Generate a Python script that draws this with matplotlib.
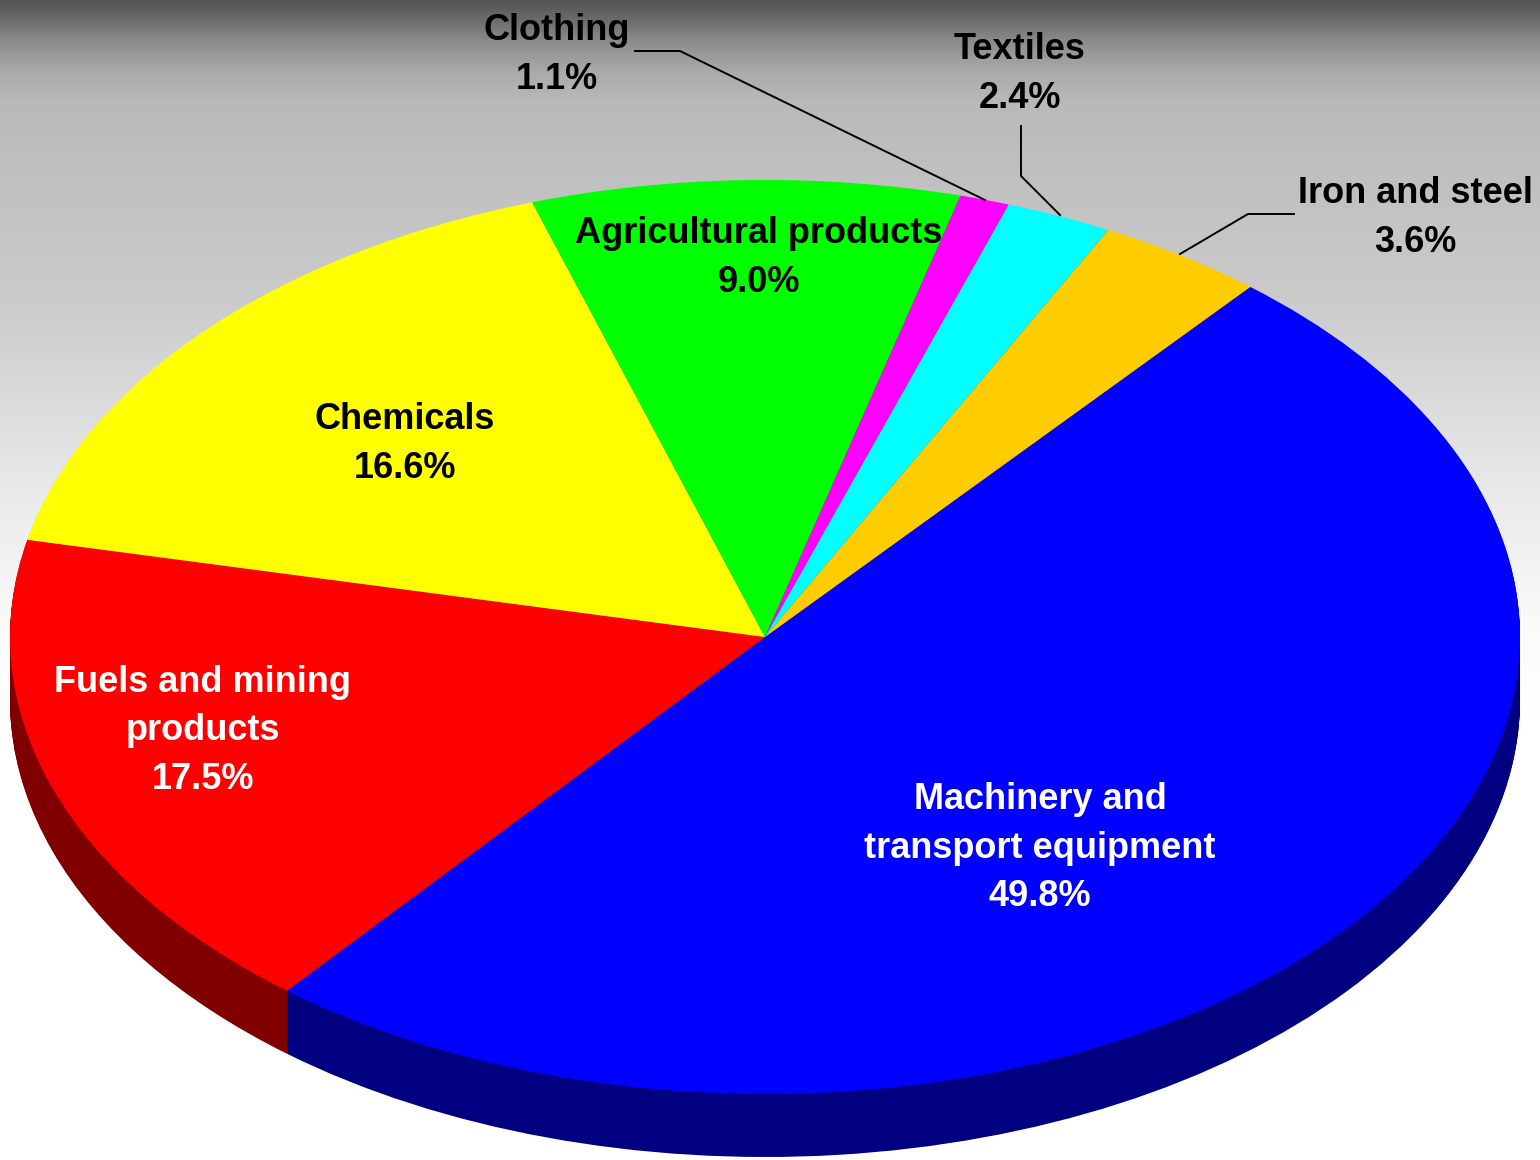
import numpy as np
import matplotlib
matplotlib.use("Agg")
import matplotlib.pyplot as plt
from matplotlib.colors import LinearSegmentedColormap

# clockwise from the orange/blue border
names = ["Machinery and\ntransport equipment", "Fuels and mining\nproducts", "Chemicals",
         "Agricultural products", "Clothing", "Textiles", "Iron and steel"]
shares = [49.8, 17.5, 16.6, 9.0, 1.1, 2.4, 3.6]
# slice sizes as measured on the drawing, the small ones differ a bit from the printed labels
drawn_sizes = [49.8, 17.5, 16.6, 9.16, 1.06, 2.28, 3.6]
top_colors = ["#0000ff", "#ff0000", "#ffff00", "#00ff00", "#ff00ff", "#00ffff", "#ffcc00"]
side_colors = ["#000080", "#800000", "#808000", "#008000", "#800080", "#008080", "#806600"]
label_colors = ["white", "white", "black", "black", "black", "black", "black"]

W, H = 1540, 1160
CX, CY = 765, 637      # pie centre in pixels
RX, RY = 755, 457      # ellipse radii
DEPTH = 63

plt.rcParams["font.family"] = ["Liberation Sans", "DejaVu Sans"]
fig = plt.figure(figsize=(W / 100, H / 100), dpi=100)

# background gradient
grad_y = [0, 20, 40, 70, 100, 150, 300, 500, 640, 720, 1160]
grad_v = [85, 110, 140, 170, 185, 190, 203, 235, 252, 255, 255]
stops = [(y / H, str(v / 255)) for y, v in zip(grad_y, grad_v)]
cmap = LinearSegmentedColormap.from_list("bg", stops, N=512)
ax_bg = fig.add_axes([0, 0, 1, 1], zorder=0)
ax_bg.imshow(np.linspace(0, 1, H).reshape(-1, 1), cmap=cmap, aspect="auto", vmin=0, vmax=1)
ax_bg.axis("off")

# pie squashed into an ellipse, wall made of stacked dark copies
ax = fig.add_axes([0, 0, 1, 1], zorder=1)
ax.patch.set_alpha(0)
for d in range(DEPTH, 0, -1):
    ax.pie(drawn_sizes, colors=side_colors, startangle=50, counterclock=False,
           center=(0, -d / RY), wedgeprops={"linewidth": 0})
ax.pie(drawn_sizes, colors=top_colors, startangle=50, counterclock=False,
       wedgeprops={"linewidth": 0})
ax.set_aspect("auto")
ax.set_xlim(-CX / RX, (W - CX) / RX)
ax.set_ylim(-(H - CY) / RY, CY / RY)

# labels and leader lines in pixel coordinates
ax_top = fig.add_axes([0, 0, 1, 1], zorder=2)
ax_top.set_xlim(0, W)
ax_top.set_ylim(H, 0)
ax_top.axis("off")

label_xy = [(1040, 848), (203, 731), (405, 444), (759, 258), (557, 55), (1020, 74), (1415, 218)]
for name, share, color, (x, y) in zip(names, shares, label_colors, label_xy):
    ax_top.text(x, y, f"{name}\n{share:.1f}%", color=color, fontsize=26, fontweight="bold",
                ha="center", va="center", linespacing=1.49)

leaders = [([635, 680, 985], [51, 51, 200]),
           ([1021, 1021, 1060], [126, 176, 215]),
           ([1294, 1248, 1180], [214, 214, 254])]
for lx, ly in leaders:
    ax_top.plot(lx, ly, color="black", linewidth=1.4)

fig.savefig("out.png", dpi=100)
